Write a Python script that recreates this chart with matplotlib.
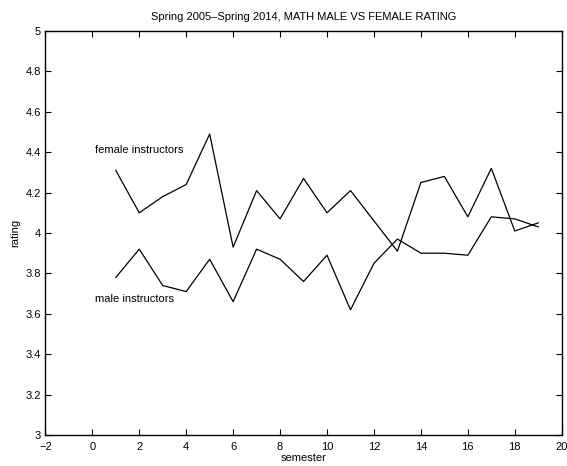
import matplotlib
matplotlib.use('Agg')
import matplotlib.pyplot as plt

# data
semester = list(range(1, 20))
female = [4.31, 4.10, 4.18, 4.24, 4.49, 3.93, 4.21, 4.07, 4.27, 4.10,
          4.21, 4.06, 3.91, 4.25, 4.28, 4.08, 4.32, 4.01, 4.05]
male = [3.78, 3.92, 3.74, 3.71, 3.87, 3.66, 3.92, 3.87, 3.76, 3.89,
        3.62, 3.85, 3.97, 3.90, 3.90, 3.89, 4.08, 4.07, 4.03]

plt.rcParams['font.family'] = ['Liberation Sans', 'DejaVu Sans']
fontsize = 8

fig = plt.figure(figsize=(5.67, 4.66), dpi=100)
ax = fig.add_axes([0.080, 0.0665, 0.9107, 0.867])

ax.plot(semester, female, color='black', linewidth=0.9)
ax.plot(semester, male, color='black', linewidth=0.9)

ax.text(0.12, 4.41, 'female instructors', fontsize=fontsize, va='center', ha='left')
ax.text(0.12, 3.674, 'male instructors', fontsize=fontsize, va='center', ha='left')

ax.set_xlim(-2, 20)
ax.set_ylim(3, 5)
ax.set_xticks(range(-2, 21, 2))
ax.set_yticks([3, 3.2, 3.4, 3.6, 3.8, 4, 4.2, 4.4, 4.6, 4.8, 5])
ax.set_yticklabels(['3', '3.2', '3.4', '3.6', '3.8', '4', '4.2', '4.4', '4.6', '4.8', '5'])
ax.set_xticklabels(['\u22122', '0', '2', '4', '6', '8', '10', '12', '14', '16', '18', '20'])
ax.tick_params(direction='in', top=True, right=True, labelsize=fontsize,
               length=4, width=0.8)
ax.tick_params(axis='x', pad=5)
ax.tick_params(axis='y', pad=3)
for s in ax.spines.values():
    s.set_linewidth(1.0)

ax.set_xlabel('semester', fontsize=fontsize, labelpad=1)
ax.set_ylabel('rating', fontsize=fontsize, labelpad=4)
ax.set_title('Spring 2005\u2013Spring 2014, MATH MALE VS FEMALE RATING',
             fontsize=fontsize, pad=8)

plt.savefig('out.png', dpi=100)
